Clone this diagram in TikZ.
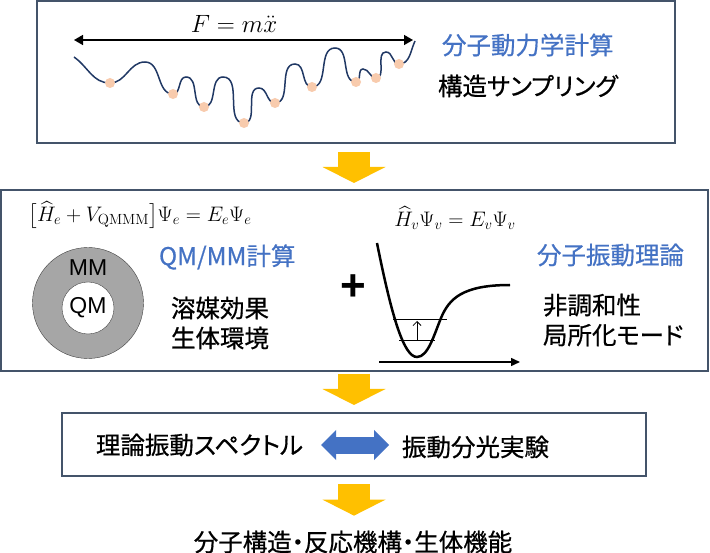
\RequirePackage{fix-cm}
\documentclass[tikz,border=0pt]{standalone}
\usepackage{amsmath}
\usepackage[no-math]{fontspec}
\usetikzlibrary{arrows.meta}
\newfontfamily\jpfont[RawFeature=+palt, RawFeature={embolden=0.6}]{Noto Sans CJK JP}
\newfontfamily\arialfont{Liberation Sans}
\definecolor{boxline}{HTML}{44546A}
\definecolor{headblue}{HTML}{4472C4}
\definecolor{arrowgold}{HTML}{FFC000}
\definecolor{wavenavy}{HTML}{203864}
\definecolor{minpeach}{HTML}{F8CBAD}
\definecolor{shellgray}{HTML}{A6A6A6}
\definecolor{ringline}{HTML}{404040}

\begin{document}
\begin{tikzpicture}[x=1pt, y=-1pt,
  every node/.style={inner sep=0pt, outer sep=0pt},
  panel/.style={draw=boxline, line width=1.5pt, fill=white},
  jtext/.style={font=\jpfont\fontsize{24.5}{30}\selectfont, text=black},
  jhead/.style={jtext, text=headblue},
  eqtext/.style={font=\fontsize{21}{26}\selectfont},
  atomlabel/.style={font=\arialfont\fontsize{23}{26}\selectfont},
  flowarrow/.style={draw=arrowgold, line width=32pt, -{Triangle[width=63pt, length=16pt, line width=0pt]}},
  bothway/.style={draw=headblue, line width=17pt, {Triangle[width=30pt, length=15pt, line width=0pt]}-{Triangle[width=30pt, length=15pt, line width=0pt]}}]
\useasboundingbox (0,0) rectangle (710,553);

\node[panel, minimum width=638pt, minimum height=142pt] (mdbox) at (356,72) {};
\node[panel, minimum width=707pt, minimum height=181pt] (qmbox) at (354.5,280.5) {};
\node[panel, minimum width=584pt, minimum height=63pt] (specbox) at (354,444.5) {};

\node[font=\fontsize{25}{30}\selectfont] (newton) at (234,24) {$F = m\ddot{x}$};
\coordinate (spanL) at (74,40);
\coordinate (spanR) at (413,40);
\draw[{Triangle[length=9pt, width=10pt]}-{Triangle[length=9pt, width=10pt]}, line width=1.5pt] (spanL) -- (spanR);

\draw[wavenavy, line width=1.5pt] (74,57) to[out=-35, in=180] (110,83) to[out=0, in=180] (145,62)
  to[out=0, in=180] (173,94) to[out=0, in=180] (186,77) to[out=0, in=180] (204,107)
  to[out=0, in=180] (223,77) to[out=0, in=180] (244,123) to[out=0, in=180] (259,88)
  to[out=0, in=180] (275,103) to[out=0, in=180] (295,64) to[out=0, in=180] (312,87)
  to[out=0, in=180] (335,48) to[out=0, in=180] (356,82) to[out=0, in=180] (363,69)
  to[out=0, in=180] (376,78) to[out=0, in=180] (386,52) to[out=0, in=180] (399,64)
  to[out=0, in=-115] (415,41);
\fill[minpeach] (110,83) circle[radius=5pt];
\fill[minpeach] (173,94) circle[radius=5pt];
\fill[minpeach] (204,107) circle[radius=5pt];
\fill[minpeach] (244,123) circle[radius=5pt];
\fill[minpeach] (275,103) circle[radius=5pt];
\fill[minpeach] (312,87) circle[radius=5pt];
\fill[minpeach] (356,82) circle[radius=5pt];
\fill[minpeach] (376,78) circle[radius=5pt];
\fill[minpeach] (399,64) circle[radius=5pt];

\node[jhead, anchor=west] (mdhead) at (442,45) {分子動力学計算};
\node[jtext, anchor=west] (sampling) at (438,86) {構造サンプリング};

\node[eqtext] (qmeq) at (140,215) {$\bigl[\widehat{H}_e + V_{\mathrm{QMMM}}\bigr]\Psi_e = E_e\Psi_e$};
\node[eqtext] (vibeq) at (455,218) {$\widehat{H}_v\Psi_v = E_v\Psi_v$};

\node[circle, draw=ringline, fill=shellgray, minimum size=111pt] (mmshell) at (88,303) {};
\node[circle, draw=ringline, fill=white, minimum size=52pt, atomlabel] (qmcore) at (88,308) {QM};
\node[atomlabel] (mmlabel) at (88,268) {MM};

\node[jhead, anchor=west] (qmhead) at (159,257) {QM/MM計算};
\node[jtext, anchor=west, align=left] (qmnotes) at (171,323) {溶媒効果\\生体環境};

\node[font=\arialfont\bfseries\fontsize{44}{44}\selectfont] (plus) at (353,288) {+};

\draw[line width=2.5pt] (377,243) .. controls (392,318) and (404,357) .. (417,357)
  .. controls (428,357) and (434,335) .. (441,318) .. controls (449,299) and (462,285) .. (510,285);
\draw[line width=1pt] (393,320) -- (447,320);
\draw[line width=1pt] (399,341) -- (435,341);
\draw[-{Straight Barb[length=4pt, width=8pt]}, line width=0.8pt] (417,341) -- (417,321);
\draw[-{Triangle[length=9pt, width=8pt]}, line width=1.5pt] (379,362) -- (520,362);

\node[jhead, anchor=west] (vibhead) at (537,255) {分子振動理論};
\node[jtext, anchor=west, align=left] (vibnotes) at (543,320) {非調和性\\局所化モード};

\node[jtext, anchor=east] (theory) at (303,445) {理論振動スペクトル};
\node[jtext, anchor=west] (expt) at (402,447) {振動分光実験};
\draw[bothway, shorten <=18pt, shorten >=13pt] (theory.east) -- (theory.east -| expt.west);

\node[jtext] (outcome) at (353,542) {分子構造・反応機構・生体機能};

\coordinate (flowx) at (354,0);
\draw[flowarrow, shorten <=9pt, shorten >=7pt] (mdbox.south -| flowx) -- (qmbox.north -| flowx);
\draw[flowarrow, shorten <=3pt, shorten >=8pt] (qmbox.south -| flowx) -- (specbox.north -| flowx);
\draw[flowarrow, shorten <=8pt, shorten >=15pt] (specbox.south -| flowx) -- (outcome.north -| flowx);
\end{tikzpicture}
\end{document}
